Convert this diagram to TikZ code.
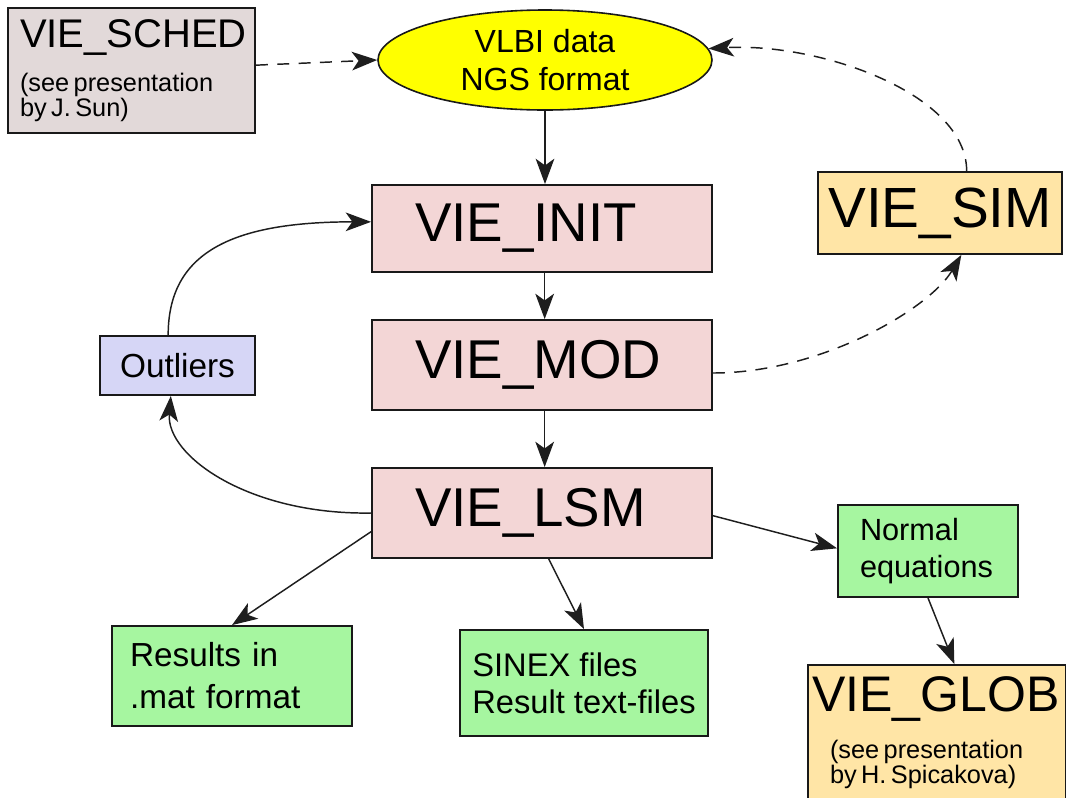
\documentclass[tikz,border=0pt]{standalone}
\usepackage{fontspec}
\setmainfont{Liberation Sans}
\usetikzlibrary{arrows.meta,shapes.geometric}
\definecolor{schedfill}{RGB}{226,217,217}
\definecolor{viefill}{RGB}{243,214,214}
\definecolor{simfill}{RGB}{255,229,166}
\definecolor{outfill}{RGB}{214,214,246}
\definecolor{resfill}{RGB}{166,246,160}
\definecolor{ellfill}{RGB}{255,255,0}
\definecolor{edgecol}{RGB}{25,25,25}
\definecolor{conncol}{RGB}{30,30,30}
\begin{document}
\begin{tikzpicture}[x=0.75pt,y=-0.75pt,
  box/.style={draw=edgecol,line width=1.4pt,rectangle,inner ysep=0pt},
  viebox/.style={box,fill=viefill,minimum width=255pt,text width=190.5pt,inner xsep=32.25pt,align=left,font=\fontsize{41}{49}\selectfont},
  flow/.style={draw=conncol,line width=1.1pt,-{Stealth[length=19pt,width=14pt,inset=5pt]}},
  dashflow/.style={flow,dash pattern=on 9pt off 7pt}]
\useasboundingbox (0,0) rectangle (1066,797);

% nodes
\node[box,fill=schedfill,minimum width=185.25pt,minimum height=93.75pt,text width=167.25pt,inner xsep=9pt,align=left] (sched) at (131.5,70.5)
  {\fontsize{30}{33}\selectfont VIE\_SCHED\\[13pt]\fontsize{19}{20.5}\selectfont (see presentation\\by J. Sun)};
\node[ellipse,draw=edgecol,line width=1.2pt,fill=ellfill,minimum width=250.5pt,minimum height=75pt,inner sep=0pt,align=center,font=\fontsize{24}{29}\selectfont] (ell) at (545,60) {VLBI data\\NGS format};
\node[viebox,minimum height=65.25pt] (init) at (542,228.5) {VIE\_INIT};
\node[viebox,minimum height=67.5pt] (mod) at (542,365) {VIE\_MOD};
\node[viebox,minimum height=67.5pt] (lsm) at (542,513) {VIE\_LSM};
\node[box,fill=simfill,minimum width=183pt,minimum height=61.5pt,font=\fontsize{42.5}{49}\selectfont] (sim) at (940,213) {VIE\_SIM};
\node[box,fill=outfill,minimum width=116.25pt,minimum height=44.25pt,font=\fontsize{25}{30}\selectfont] (out) at (177.5,365.5) {Outliers};
\node[box,fill=resfill,minimum width=180pt,minimum height=75pt,text width=153pt,inner xsep=13.5pt,align=left,font=\fontsize{25}{31.5}\selectfont] (res) at (232,676) {Results in\\.mat format};
\node[box,fill=resfill,minimum width=186pt,minimum height=79.5pt,inner xsep=0pt,align=left,font=\fontsize{24.5}{28}\selectfont] (sinex) at (584,683) {SINEX files\\Result text-files};
\node[box,fill=resfill,minimum width=135pt,minimum height=69pt,text width=102pt,inner xsep=16.5pt,align=left,font=\fontsize{23}{27.75}\selectfont] (normal) at (928,551) {Normal\\equations};
\node[box,fill=simfill,minimum width=193.5pt,minimum height=101.25pt,text width=187.5pt,inner xsep=3pt,align=left] (glob) at (937,732.5)
  {\fontsize{37.5}{40}\selectfont VIE\_GLOB\\[13pt]\fontsize{19}{21}\selectfont\hspace*{13.5pt}(see presentation\\\hspace*{13.5pt}by H. Spicakova)};

% connectors
\draw[dashflow] ([yshift=4pt]sched.east) -- (ell.west);
\draw[dashflow] ([xshift=20pt]sim.north) .. controls +(0,-77) and +(112,-6) .. (ell.4);
\draw[flow] (ell.south) -- (ell.south |- init.north);
\draw[flow] ([xshift=2pt]init.south) -- ([xshift=2pt]mod.north);
\draw[flow] ([xshift=2pt]mod.south) -- ([xshift=2pt]lsm.north);
\draw[dashflow] ([yshift=-6pt]mod.east) .. controls +(108,0) and +(-32,54) .. ([xshift=16pt]sim.south);
\draw[flow] (lsm.west) .. controls +(-122,2) and +(-5,60) .. ([xshift=-5pt]out.south);
\draw[flow] ([xshift=-7pt]out.north) .. controls +(0,-81) and +(-142,0) .. ([yshift=5pt]init.west);
\draw[flow] ([yshift=-14pt]lsm.west) -- (res.north);
\draw[flow] ([xshift=5pt]lsm.south) -- (sinex.north);
\draw[flow] ([yshift=-2pt]lsm.east) -- ([yshift=2pt]normal.west);
\draw[flow] (normal.south) -- ([xshift=13pt]glob.north);
\end{tikzpicture}
\end{document}
